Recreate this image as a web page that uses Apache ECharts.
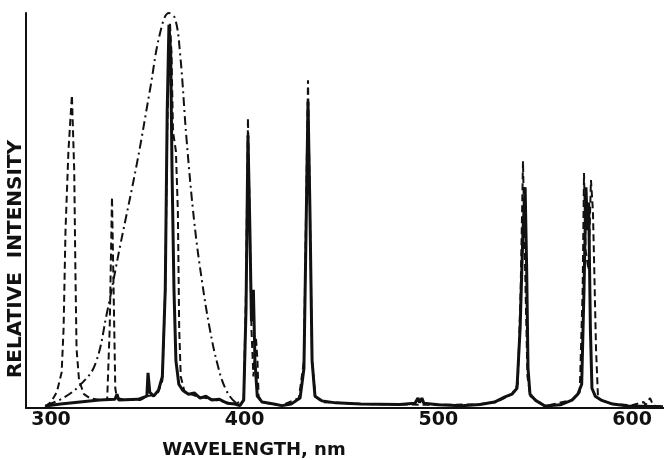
<!DOCTYPE html>
<html>
<head>
<meta charset="utf-8">
<script src="https://cdn.jsdelivr.net/npm/echarts@6/dist/echarts.min.js"></script>
<style>
  html, body { margin: 0; padding: 0; background: #fff; }
  #main { width: 664px; height: 460px; }
</style>
</head>
<body>
<div id="main"></div>
<script>
// wavelength (nm), relative intensity (0-100)
var solidCurve = [
  [297, 0.5], [305, 1.0], [315, 1.5], [325, 2.0], [333, 2.2], [334.1, 3.5], [335, 2.0], [345, 2.2],
  [349.5, 3.0], [350.1, 8.9], [351, 4.0], [353, 3.0], [355.5, 4.5], [357.5, 8.0], [359.0, 30],
  [360.0, 75], [360.9, 97], [361.8, 90], [362.5, 60], [363.5, 30], [364.5, 12], [366, 6], [368, 4.5],
  [371, 3.5], [374, 3.8], [377, 2.5], [380, 3.0], [383, 2.0], [387, 2.2], [391, 1.2], [395, 1.0],
  [397.5, 0.6], [399.5, 2.0], [400.7, 25], [401.7, 69], [402.7, 45], [403.5, 22], [404.5, 29.9],
  [405.3, 12], [406.5, 3], [409, 1.5], [415, 1.0], [419.3, 0.6], [424, 1.0], [428.6, 2.5],
  [430.6, 10], [431.7, 45], [432.7, 77.5], [433.7, 50], [434.8, 12], [436.3, 3], [440, 1.8],
  [447, 1.3], [460, 1.0], [480, 0.9], [487.9, 1.2], [489.5, 2.5], [490.3, 1.4], [491.5, 2.5],
  [492.5, 1.2], [500, 0.8], [512, 0.6], [521.5, 0.9], [529, 1.5], [534.4, 2.8], [538, 3.5],
  [540.6, 5], [542.2, 20], [543.7, 45], [544.8, 55.9], [545.6, 35], [546.3, 10], [547.3, 3.5],
  [550, 2], [555, 0.5], [563, 0.8], [569, 2.0], [572, 3.5], [574, 6], [575.2, 30], [576.2, 55.9],
  [577.0, 45], [577.6, 52], [578.5, 20], [579.3, 5], [581, 3], [584, 2], [590, 1.0], [598, 0.5],
  [616, 0.3]
];
var dashedCurve = [
  [297, 0.3], [300, 1.5], [303, 4], [305.5, 9], [306.5, 20], [307.5, 45], [309, 65], [310.8, 79.2],
  [312, 60], [312.6, 35], [313.2, 15], [314.5, 7], [317, 3.5], [320, 2.5], [325, 2.0], [329, 2.0],
  [329.5, 2.5], [330.3, 20], [331.5, 53.4], [332.5, 25], [333.2, 5], [334, 2.5], [340, 2.0],
  [346, 2.0], [350, 3], [355, 3.5], [357.5, 7], [359, 30], [360, 70], [361.4, 97.7], [362.2, 90],
  [363, 70], [364.5, 65], [365.5, 50], [366.2, 20], [367, 8], [369, 4], [375, 3], [385, 2],
  [395, 1.0], [399.5, 2], [400.7, 30], [401.7, 73.4], [402.7, 45], [403.5, 20], [404.5, 8],
  [405.8, 18], [406.6, 12], [407.2, 3], [409, 1.5], [419, 0.6], [428, 2.5], [430.6, 12],
  [431.7, 50], [432.7, 83], [433.7, 50], [434.8, 12], [436.5, 3], [440, 1.5], [460, 1.0],
  [480, 0.9], [500, 0.8], [520, 0.9], [530, 1.5], [538, 3.5], [541, 6], [542.5, 30], [543.7, 62.5],
  [544.8, 35], [546, 8], [547.5, 3], [555, 0.5], [569, 2], [573, 4], [574.5, 30], [575.2, 59.5],
  [576, 40], [577.5, 35], [578.8, 57.7], [579.8, 50], [580.5, 35], [581.4, 15], [582.4, 3],
  [584, 2.0], [590, 1.0], [600, 0.7], [606, 1.5], [607, 0.8], [609.3, 2.5], [611, 0.6], [616, 0.3]
];
var dashDotCurve = [
  [298, 0.8], [306.2, 2.5], [315, 5.8], [322.7, 10.9], [328.9, 24.1], [335.6, 40.8], [344.4, 62.0],
  [351.1, 80.5], [356.3, 94.9], [360.9, 100], [364, 98.7], [366.6, 90], [370, 68], [374, 47],
  [378, 32], [382, 20], [386, 11], [390, 5], [395, 1.5], [400, 0.5]
];
var tickLabels = [300, 400, 500, 600];

var myChart = echarts.init(document.getElementById('main'));

var ink = '#111';
var option = {
  animation: false,
  backgroundColor: '#fff',
  grid: { left: 26, right: 0, top: 13, bottom: 52, outerBoundsMode: 'none' },
  xAxis: {
    type: 'value',
    min: 287.1,
    max: 616.5,
    splitLine: { show: false },
    axisTick: { show: false },
    axisLine: { lineStyle: { color: ink, width: 2 } },
    axisLabel: {
      customValues: tickLabels,
      color: ink,
      fontFamily: 'DejaVu Sans',
      fontWeight: 'bold',
      fontSize: 19,
      margin: 3
    }
  },
  yAxis: {
    type: 'value',
    min: 0,
    max: 100,
    splitLine: { show: false },
    axisTick: { show: false },
    axisLabel: { show: false },
    axisLine: { show: true, lineStyle: { color: ink, width: 2 } }
  },
  graphic: [
    {
      type: 'text', x: 254, y: 450,
      style: { text: 'WAVELENGTH, nm', fill: ink, font: 'bold 18px "DejaVu Sans"', align: 'center', verticalAlign: 'middle' }
    },
    {
      type: 'text', x: 16, y: 259, rotation: Math.PI / 2,
      style: { text: 'RELATIVE  INTENSITY', fill: ink, font: 'bold 20px "DejaVu Sans"', align: 'center', verticalAlign: 'middle' }
    }
  ],
  series: [
    {
      type: 'line', data: dashDotCurve, showSymbol: false, smooth: 0.4,
      lineStyle: { color: ink, width: 2, type: [9, 4, 2, 4] }
    },
    {
      type: 'line', data: dashedCurve, showSymbol: false,
      lineStyle: { color: ink, width: 2, type: [7, 4] }
    },
    {
      type: 'line', data: solidCurve, showSymbol: false,
      lineStyle: { color: ink, width: 3 }
    }
  ]
};

myChart.setOption(option);
</script>
</body>
</html>
